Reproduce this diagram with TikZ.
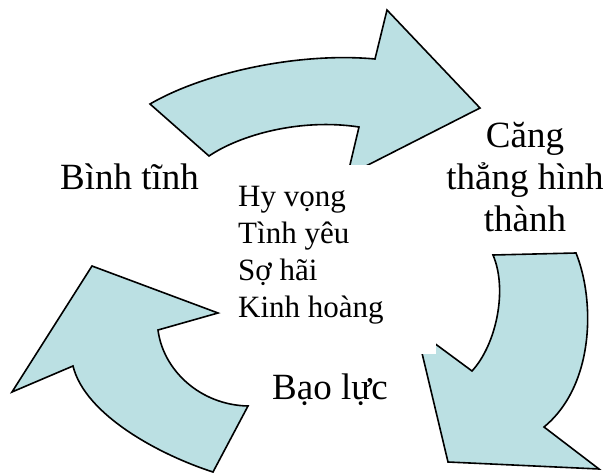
\documentclass[tikz,border=0pt]{standalone}
\usepackage{fontspec}
\setmainfont{Liberation Serif}
\definecolor{arrowfill}{RGB}{187,224,227}
\begin{document}
\begin{tikzpicture}[x=1pt,y=-1pt,
  bentarrow/.style={fill=arrowfill,draw=black,line width=1.6pt,line join=miter},
  bigtext/.style={inner sep=0pt,font=\fontsize{37}{42}\selectfont},
  listtext/.style={inner sep=0pt,align=left,font=\fontsize{31}{37}\selectfont}]
\useasboundingbox (0,0) rectangle (606,476);
% top arrow
\path[bentarrow] (150,104) .. controls (205,72) and (300,52) .. (375,59)
  -- (387,10) -- (480,108) -- (347.5,175.4) -- (359,127)
  .. controls (300,118) and (240,135) .. (209,156) -- cycle;
% right arrow
\path[bentarrow] (493,255) -- (576,253) .. controls (595,300) and (595,385) .. (544,427)
  -- (599,469) -- (448,462) -- (416.5,330) -- (472,371)
  .. controls (496,345) and (508,290) .. (493,255) -- cycle;
% left arrow
\path[bentarrow] (92,266) -- (218,313) -- (158,330)
  .. controls (163,370) and (200,405) .. (248,406)
  -- (213,472) .. controls (160,455) and (85,415) .. (73,366)
  -- (12,392) -- cycle;
% white text box
\node[fill=white,inner sep=0pt,minimum width=211pt,minimum height=189pt,anchor=north west] (box) at (225,165) {};
\node[listtext,anchor=base west] (list) at (238,317) {Hy vọng\\Tình yêu\\Sợ hãi\\Kinh hoàng};
\node[bigtext,anchor=base west] (calm) at (60,190) {Bình tĩnh};
\node[bigtext,align=center,anchor=base] (tension) at (525,232) {Căng\\thẳng hình\\thành};
\node[bigtext,anchor=base west] (violence) at (272,399) {Bạo lực};
\end{tikzpicture}
\end{document}
